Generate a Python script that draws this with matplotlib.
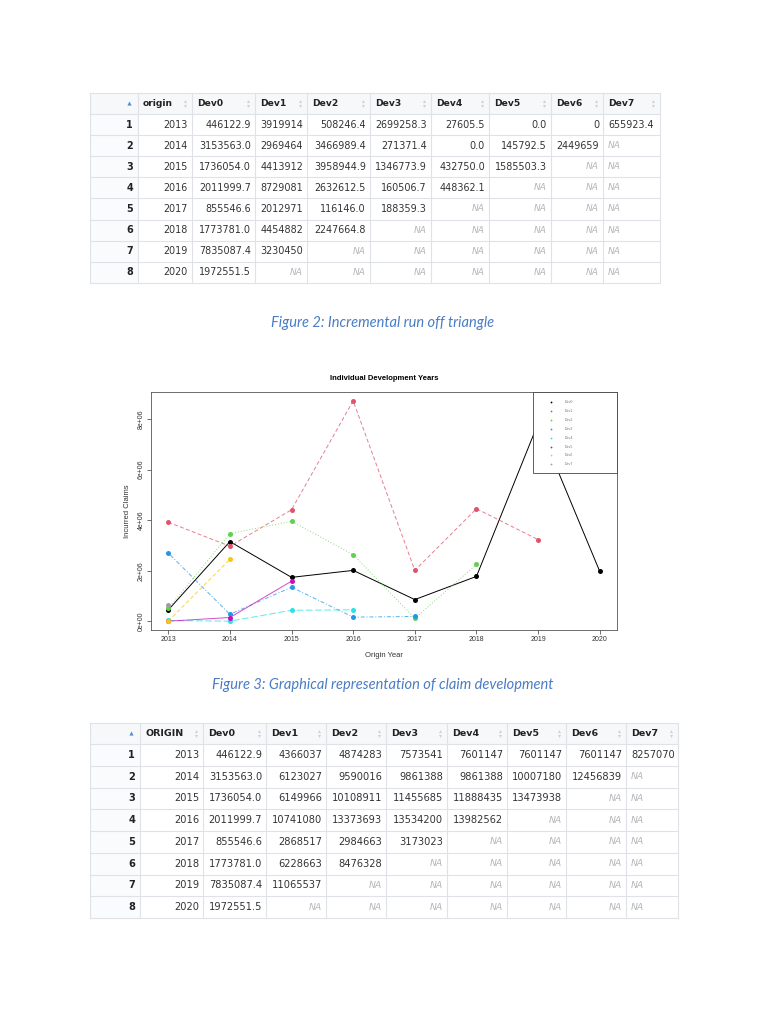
import matplotlib.pyplot as plt
from matplotlib.patches import Rectangle
import numpy as np

# ---- data ----
years = [2013, 2014, 2015, 2016, 2017, 2018, 2019, 2020]
dev_names = ['Dev0', 'Dev1', 'Dev2', 'Dev3', 'Dev4', 'Dev5', 'Dev6', 'Dev7']

# incremental run off triangle (None = NA)
inc_dev0 = [446122.9, 3153563.0, 1736054.0, 2011999.7, 855546.6, 1773781.0, 7835087.4, 1972551.5]
inc_dev1 = [3919914, 2969464, 4413912, 8729081, 2012971, 4454882, 3230450, None]
inc_dev2 = [508246.4, 3466989.4, 3958944.9, 2632612.5, 116146.0, 2247664.8, None, None]
inc_dev3 = [2699258.3, 271371.4, 1346773.9, 160506.7, 188359.3, None, None, None]
inc_dev4 = [27605.5, 0.0, 432750.0, 448362.1, None, None, None, None]
inc_dev5 = [0.0, 145792.5, 1585503.3, None, None, None, None, None]
inc_dev6 = [0, 2449659, None, None, None, None, None, None]
inc_dev7 = [655923.4, None, None, None, None, None, None, None]
inc_cols = [inc_dev0, inc_dev1, inc_dev2, inc_dev3, inc_dev4, inc_dev5, inc_dev6, inc_dev7]
inc_fmt = ['{:.1f}', '{:.0f}', '{:.1f}', '{:.1f}', '{:.1f}', '{:.1f}', '{:.0f}', '{:.1f}']

# cumulative triangle
cum_dev0 = [446122.9, 3153563.0, 1736054.0, 2011999.7, 855546.6, 1773781.0, 7835087.4, 1972551.5]
cum_dev1 = [4366037, 6123027, 6149966, 10741080, 2868517, 6228663, 11065537, None]
cum_dev2 = [4874283, 9590016, 10108911, 13373693, 2984663, 8476328, None, None]
cum_dev3 = [7573541, 9861388, 11455685, 13534200, 3173023, None, None, None]
cum_dev4 = [7601147, 9861388, 11888435, 13982562, None, None, None, None]
cum_dev5 = [7601147, 10007180, 13473938, None, None, None, None, None]
cum_dev6 = [7601147, 12456839, None, None, None, None, None, None]
cum_dev7 = [8257070, None, None, None, None, None, None, None]
cum_cols = [cum_dev0, cum_dev1, cum_dev2, cum_dev3, cum_dev4, cum_dev5, cum_dev6, cum_dev7]
cum_fmt = ['{:.1f}'] + ['{:.0f}'] * 7

r_cols = ['black', '#DF536B', '#61D04F', '#2297E6', '#28E2E5', '#CD0BBC', '#F5C710', '#9E9E9E']
r_lty = ['-', (0, (4, 2.5)), (0, (1, 2)), (0, (1, 2, 4, 2)), (0, (7, 2.5)),
         '-', (0, (4, 2.5)), (0, (1, 2))]

fig = plt.figure(figsize=(7.68, 10.24), dpi=100)
bg = fig.add_axes([0, 0, 1, 1])
bg.set_xlim(0, 768)
bg.set_ylim(1024, 0)
bg.axis('off')

grid_c = '#dfe3e7'
na_c = '#b5b5b5'
txt_c = '#333333'


def sort_icon(x, y):
    bg.plot(x, y - 2.2, marker='^', ms=2.2, color='#cfd3d7', mew=0)
    bg.plot(x, y + 2.2, marker='v', ms=2.2, color='#cfd3d7', mew=0)


def draw_table(top, head_h, row_h, edges, first_name, cols, fmts, fs):
    right = edges[-1]
    nrow = len(years)
    bottom = top + head_h + nrow * row_h
    bg.add_patch(Rectangle((edges[0], top), right - edges[0], head_h,
                           fc='#f7f8f9', ec='none'))
    bg.add_patch(Rectangle((edges[0], top + head_h), edges[1] - edges[0], nrow * row_h,
                           fc='#fafbfc', ec='none'))
    # vertical and horizontal rules
    for x in edges:
        bg.plot([x, x], [top, bottom], color=grid_c, lw=0.8)
    for i in range(nrow + 1):
        y = top + head_h + i * row_h
        bg.plot([edges[0], right], [y, y], color=grid_c, lw=0.8)
    bg.plot([edges[0], right], [top, top], color=grid_c, lw=0.8)
    hy = top + head_h / 2
    # header
    bg.plot(edges[1] - 9, hy - 1, marker='^', ms=3, color='#4a90d9', mew=0)
    names = [first_name] + dev_names
    for j, nm in enumerate(names):
        bg.text(edges[j + 1] + 5, hy, nm, fontsize=fs - 0.3, fontweight='bold',
                color='#222222', ha='left', va='center')
        sort_icon(edges[j + 2] - 7, hy)
    # body
    for i in range(nrow):
        y = top + head_h + (i + 0.5) * row_h
        bg.text(edges[1] - 5, y, str(i + 1), fontsize=fs, fontweight='bold',
                color='#222222', ha='right', va='center')
        bg.text(edges[2] - 4, y, str(years[i]), fontsize=fs, color=txt_c,
                ha='right', va='center')
        for j, col in enumerate(cols):
            last = j == len(cols) - 1
            x = edges[j + 2] + 5 if last else edges[j + 3] - 4
            ha = 'left' if last else 'right'
            v = col[i]
            if v is None:
                bg.text(x, y, 'NA', fontsize=fs - 0.4, style='italic', color=na_c,
                        ha=ha, va='center')
            else:
                bg.text(x, y, fmts[j].format(v), fontsize=fs, color=txt_c,
                        ha=ha, va='center')


edges1 = [90, 138, 192, 255, 307, 370, 431, 489, 551, 603, 660]
draw_table(93, 21, 21.1, edges1, 'origin', inc_cols, inc_fmt, 6.9)

edges2 = [90, 140, 203, 266, 326, 386, 447, 507, 566, 626, 678]
draw_table(723, 21, 21.75, edges2, 'ORIGIN', cum_cols, cum_fmt, 7.1)

cap_c = '#4a7cc6'
bg.text(383, 323, 'Figure 2: Incremental run off triangle', fontsize=10.5,
        family='Lato', style='italic', color=cap_c, ha='center', va='center')
bg.text(383, 685, 'Figure 3: Graphical representation of claim development', fontsize=10.5,
        family='Lato', style='italic', color=cap_c, ha='center', va='center')

# ---- chart ----
ax = fig.add_axes([151 / 768, 1 - 630 / 1024, 466 / 768, 238 / 1024])
plt.rcParams['font.family'] = ['Liberation Sans', 'DejaVu Sans']
for k, col in enumerate(inc_cols):
    yv = np.array([np.nan if v is None else v for v in col], dtype=float)
    ax.plot(years, yv, color=r_cols[k], ls=r_lty[k], lw=0.7,
            alpha=1.0 if k == 0 else 0.75, zorder=2)
    ax.plot(years, yv, ls='none', marker='o', ms=3.6, color=r_cols[k], mew=0, zorder=3)

allv = [v for col in inc_cols for v in col if v is not None]
ylo, yhi = min(allv), max(allv)
ax.set_xlim(years[0] - 0.04 * (years[-1] - years[0]), years[-1] + 0.04 * (years[-1] - years[0]))
ax.set_ylim(ylo - 0.04 * (yhi - ylo), yhi + 0.04 * (yhi - ylo))
ax.set_xticks(years)
ax.set_xticklabels([str(y) for y in years], fontsize=5, family='Liberation Sans')
yt = [0, 2e6, 4e6, 6e6, 8e6]
ax.set_yticks(yt)
ax.set_yticklabels(['0e+00', '2e+06', '4e+06', '6e+06', '8e+06'], fontsize=5,
                   family='Liberation Sans', rotation=90, va='center')
ax.tick_params(length=3, width=0.5, pad=1.5, colors='#333333')
for s in ax.spines.values():
    s.set_linewidth(0.6)
    s.set_color('#555555')
ax.set_title('Individual Development Years', fontsize=5.5, fontweight='bold',
             family='Liberation Sans', pad=9)
ax.set_xlabel('Origin Year', fontsize=5.5, family='Liberation Sans', labelpad=6, color='#333333')
ax.set_ylabel('Incurred Claims', fontsize=5.5, family='Liberation Sans', labelpad=5, color='#333333')

# legend box (R style)
lx0, ly0 = (533 - 151) / 466, 1 - (473 - 392) / 238
ax.add_patch(Rectangle((lx0, ly0), 1 - lx0, 1 - ly0, transform=ax.transAxes,
                       fc='white', ec='#444444', lw=0.6, zorder=5, clip_on=False))
for k, nm in enumerate(dev_names):
    yy = 1 - (10 + k * 8.9) / 238
    ax.plot((551 - 151) / 466, yy, marker='o', ms=1.3, mew=0, color=r_cols[k],
            transform=ax.transAxes, zorder=6, clip_on=False)
    ax.text((565 - 151) / 466, yy, nm, fontsize=2.6, color='#777777', va='center',
            transform=ax.transAxes, zorder=6, family='Liberation Sans')

fig.savefig('out.png', dpi=100, facecolor='white')
